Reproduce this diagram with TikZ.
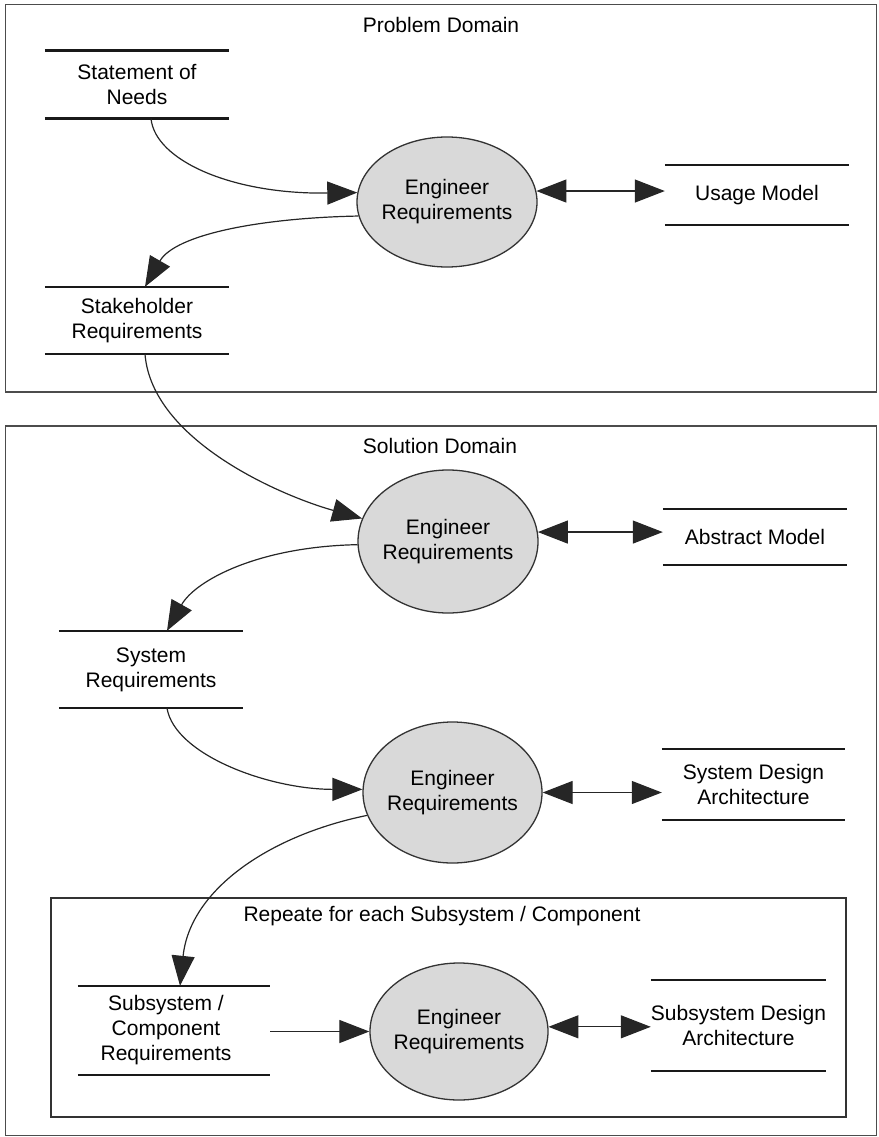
\documentclass[tikz,border=0pt]{standalone}
\usepackage{fontspec}
\setmainfont{Liberation Sans}
\usetikzlibrary{arrows.meta,shapes.geometric}
\begin{document}
\begin{tikzpicture}[x=1pt,y=-1pt,
  every node/.style={font=\fontsize{21}{25}\selectfont, align=center, inner sep=0pt, text=black},
  store/.style 2 args={rectangle, minimum width=#1, minimum height=#2},
  process/.style={ellipse, draw=black!80, line width=1.3pt, fill=black!15, inner xsep=-3pt},
  bar/.style={line width=2.4pt, draw=black!90},
  outerframe/.style={draw=black!70, line width=1.5pt},
  innerframe/.style={draw=black!80, line width=1.4pt},
  flow/.style={draw=black!85, line width=1.2pt, -{Triangle[length=30pt,width=23pt]}},
  both/.style={draw=black!85, line width=1.2pt, {Triangle[length=30pt,width=23pt]}-{Triangle[length=30pt,width=23pt]}},
]
\useasboundingbox (0,0) rectangle (878,1137);

% domain frames
\draw[outerframe] (5.5,4.5) rectangle (876.5,392);
\draw[outerframe] (5.5,426) rectangle (876.5,1135.5);
\draw[innerframe] (51,898) rectangle (846,1117);

% frame titles
\node (pd)  at (441,25)  {Problem Domain};
\node (sdm) at (440,446) {Solution Domain};
\node (rep) at (442,916) {Repeate for each Subsystem / Component};

% data stores
\node[store={184}{67.6}] (son)    at (137,84.5)   {Statement of\\Needs};
\node[store={184}{60}]   (um)     at (757,195)    {Usage Model};
\node[store={184}{67}]   (sh)     at (137,320.5)  {Stakeholder\\Requirements};
\node[store={184}{77}]   (sysreq) at (151,669.5)  {System\\Requirements};
\node[store={184}{56}]   (am)     at (755,537)    {Abstract Model};
\node[store={183}{71}]   (sda)    at (753.5,784.5){System Design\\Architecture};
\node[store={192}{89}]   (subreq) at (174,1030.5) {\hspace*{-16pt}Subsystem /\\\hspace*{-16pt}Component\\\hspace*{-16pt}Requirements};
\node[store={175}{91}]   (subda)  at (738.5,1025.5){Subsystem Design\\Architecture};

\foreach \n in {son,um,sh,sysreq,am,sda,subreq,subda} {
  \draw[bar] (\n.north west) -- (\n.north east) (\n.south west) -- (\n.south east);
}

% processes
\node[process, minimum width=180, minimum height=130] (e1) at (447,202)    {Engineer\\Requirements};
\node[process, minimum width=180, minimum height=143] (e2) at (448,541.5)  {Engineer\\Requirements};
\node[process, minimum width=179, minimum height=141] (e3) at (452.5,792.5){Engineer\\Requirements};
\node[process, minimum width=178, minimum height=137] (e4) at (459,1031.5) {Engineer\\Requirements};

% flows
\draw[flow] ([xshift=14pt]son.south) .. controls +(4,42) and +(-125,2) .. (e1.174);
\draw[flow] (e1.189) .. controls +(-100,2) and +(30,-52) .. ([xshift=8pt]sh.north);
\draw[flow] ([xshift=8pt]sh.south) .. controls +(7,86) and +(-82,-23) .. (e2.165);
\draw[flow] (e2.182) .. controls +(-100,2) and +(28,-50) .. ([xshift=16pt]sysreq.north);
\draw[flow] ([xshift=16pt]sysreq.south) .. controls +(8,47) and +(-93,0) .. (e3.178);
\draw[flow] (e3.195) .. controls +(-98,20) and +(10,-96) .. ([xshift=6pt]subreq.north);
\draw[flow] (subreq.east |- e4.west) -- (e4.west);

\draw[both] (e1.7) -- (e1.7 -| um.west);
\draw[both] (e2.6) -- (e2.6 -| am.west);
\draw[both] (e3.east) -- (e3.east -| sda.west);
\draw[both] (e4.3) -- (e4.3 -| subda.west);
\end{tikzpicture}
\end{document}
